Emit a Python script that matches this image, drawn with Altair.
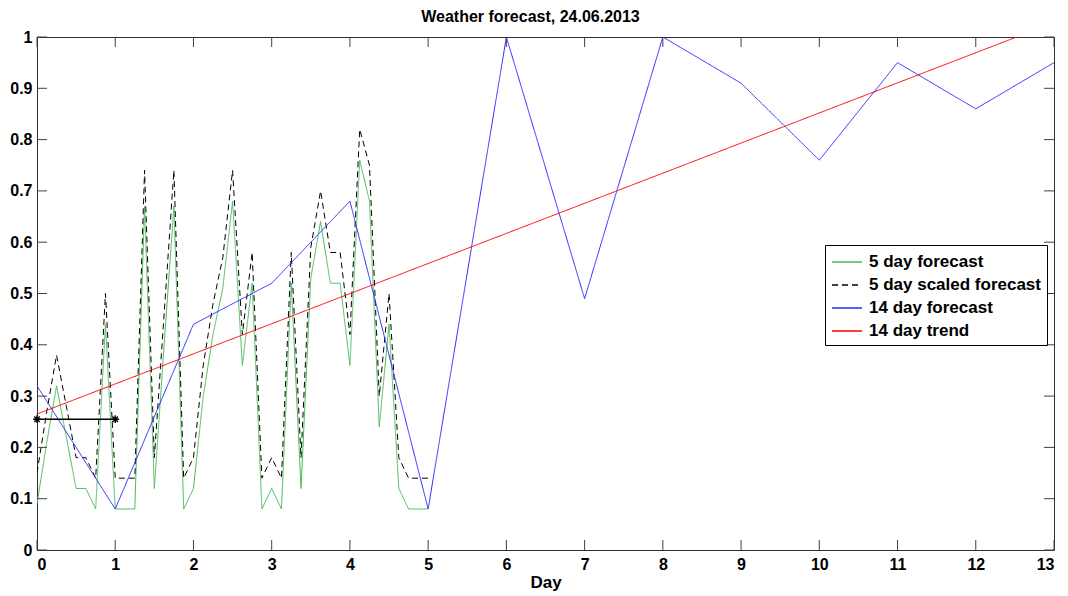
import altair as alt
import pandas as pd

# ---------------- data ----------------
days_5 = [0.0, 0.125, 0.25, 0.375, 0.5, 0.625, 0.75, 0.875,
          1.0, 1.125, 1.25, 1.375, 1.5, 1.625, 1.75, 1.875,
          2.0, 2.125, 2.25, 2.375, 2.5, 2.625, 2.75, 2.875,
          3.0, 3.125, 3.25, 3.375, 3.5, 3.625, 3.75, 3.875,
          4.0, 4.125, 4.25, 4.375, 4.5, 4.625, 4.75, 4.875, 5.0]
forecast_5 = [0.09, 0.21, 0.32, 0.22, 0.12, 0.12, 0.08, 0.44,
              0.08, 0.08, 0.08, 0.67, 0.12, 0.40, 0.67, 0.08,
              0.12, 0.30, 0.42, 0.51, 0.68, 0.36, 0.52, 0.08,
              0.12, 0.08, 0.52, 0.12, 0.53, 0.64, 0.52, 0.52,
              0.36, 0.76, 0.68, 0.24, 0.44, 0.12, 0.08, 0.08, 0.08]
scaled_5 = [0.15, 0.27, 0.38, 0.28, 0.18, 0.18, 0.14, 0.50,
            0.14, 0.14, 0.14, 0.74, 0.18, 0.46, 0.74, 0.14,
            0.18, 0.36, 0.48, 0.57, 0.74, 0.42, 0.58, 0.14,
            0.18, 0.14, 0.58, 0.18, 0.59, 0.70, 0.58, 0.58,
            0.42, 0.82, 0.75, 0.30, 0.50, 0.18, 0.14, 0.14, 0.14]
days_14 = [0, 1, 2, 3, 4, 5, 6, 7, 8, 9, 10, 11, 12, 13]
forecast_14 = [0.32, 0.08, 0.44, 0.52, 0.68, 0.08, 1.0, 0.49, 1.0, 0.91, 0.76, 0.95, 0.86, 0.95]
trend_days = [0, 13]
trend_vals = [0.265, 1.028]
marker_days = [0, 1]
marker_vals = [0.255, 0.255]
x_ticks = [0, 1, 2, 3, 4, 5, 6, 7, 8, 9, 10, 11, 12, 13]
y_ticks = [0.0, 0.1, 0.2, 0.3, 0.4, 0.5, 0.6, 0.7, 0.8, 0.9, 1.0]

series_names = ["5 day forecast", "5 day scaled forecast", "14 day forecast", "14 day trend"]
series_colors = ["#45bb57", "#000000", "#2a2aff", "#ff0000"]
series_dash = [[1, 0], [6, 4], [1, 0], [1, 0]]

rows = []
for name, xs, vs in [(series_names[0], days_5, forecast_5),
                     (series_names[1], days_5, scaled_5),
                     (series_names[2], days_14, forecast_14),
                     (series_names[3], trend_days, trend_vals)]:
    for x, v in zip(xs, vs):
        rows.append({"day": x, "value": v, "series": name})
df = pd.DataFrame(rows)
marker_df = pd.DataFrame({"day": marker_days, "value": marker_vals})
xt_df = pd.DataFrame({"t": x_ticks})
yt_df = pd.DataFrame({"t": y_ticks})

W, H = 1017, 513
FONT = "Liberation Sans"
TICK = "#404040"

xscale = alt.Scale(domain=[0, 13], nice=False, zero=False)
yscale = alt.Scale(domain=[0, 1], nice=False)

legend_cfg = dict(title=None, orient="none", legendX=788, legendY=208,
                  symbolType="M-1,0L2,0", symbolSize=400, symbolStrokeWidth=1.5,
                  labelFont=FONT, labelFontSize=17, labelFontWeight="bold",
                  labelColor="black", fillColor="white", strokeColor="black",
                  padding=6, rowPadding=4, labelOffset=16, labelLimit=400)

lines = alt.Chart(df).mark_line(strokeWidth=1, clip=True).encode(
    x=alt.X("day:Q", scale=xscale,
            axis=alt.Axis(values=x_ticks, ticks=False, domain=False, grid=False,
                          labelPadding=6, title="Day", titlePadding=2, format="d")),
    y=alt.Y("value:Q", scale=yscale,
            axis=alt.Axis(values=y_ticks, ticks=False, domain=False, grid=False,
                          labelPadding=5, title=None, format=".1~f")),
    color=alt.Color("series:N", scale=alt.Scale(domain=series_names, range=series_colors),
                    legend=alt.Legend(**legend_cfg)),
    strokeDash=alt.StrokeDash("series:N", scale=alt.Scale(domain=series_names, range=series_dash),
                              legend=alt.Legend(**legend_cfg)),
)

seg = alt.Chart(marker_df).mark_line(color="black", strokeWidth=1.5).encode(
    x=alt.X("day:Q", scale=xscale), y=alt.Y("value:Q", scale=yscale))
stars = alt.Chart(marker_df).mark_point(
    shape="M-1,0L1,0M0,-1L0,1M-0.7,-0.7L0.7,0.7M-0.7,0.7L0.7,-0.7",
    size=60, filled=False, color="black", strokeWidth=1.4, opacity=1).encode(
    x=alt.X("day:Q", scale=xscale), y=alt.Y("value:Q", scale=yscale))

tk = dict(color=TICK, strokeWidth=1)
xb = alt.Chart(xt_df).mark_rule(**tk).encode(
    x=alt.X("t:Q", scale=xscale), y=alt.value(H), y2=alt.value(H - 10))
xtop = alt.Chart(xt_df).mark_rule(**tk).encode(
    x=alt.X("t:Q", scale=xscale), y=alt.value(0), y2=alt.value(10))
yl = alt.Chart(yt_df).mark_rule(**tk).encode(
    y=alt.Y("t:Q", scale=yscale), x=alt.value(0), x2=alt.value(10))
yr = alt.Chart(yt_df).mark_rule(**tk).encode(
    y=alt.Y("t:Q", scale=yscale), x=alt.value(W), x2=alt.value(W - 10))

chart = alt.layer(lines, xb, xtop, yl, yr, seg, stars).properties(
    width=W, height=H,
    title=alt.TitleParams("Weather forecast, 24.06.2013", font=FONT, fontSize=16,
                          fontWeight="bold", color="black", offset=4, dx=-15),
    autosize=alt.AutoSizeParams(type="none"),
    padding={"left": 37, "top": 37, "right": 14, "bottom": 46},
    background="white",
).configure_axis(
    labelFont=FONT, labelFontSize=16, labelFontWeight="bold", labelColor="black",
    titleFont=FONT, titleFontSize=17, titleFontWeight="bold", titleColor="black",
).configure_view(stroke="#303030", strokeWidth=1)

chart.save("out.html", embed_options={"renderer": "svg", "actions": False})
